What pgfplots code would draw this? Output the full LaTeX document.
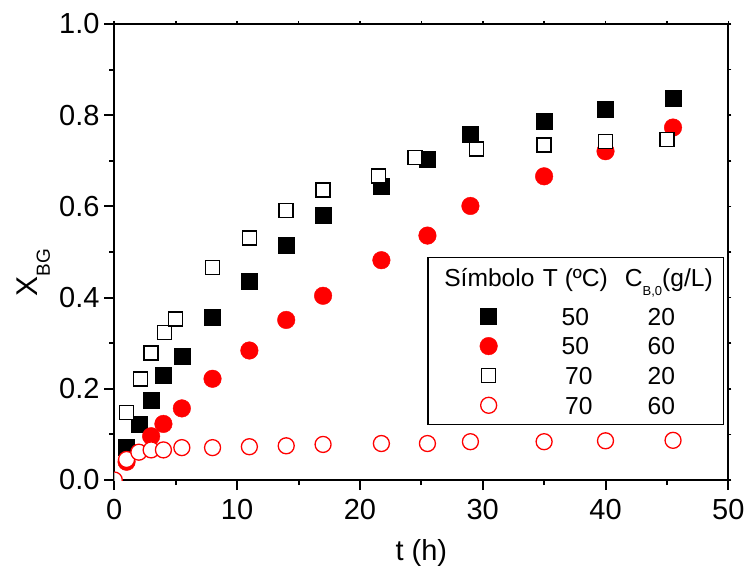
\documentclass[border=0pt]{standalone}
\usepackage{fontspec}
\setmainfont{Liberation Sans}
\usepackage{pgfplots}
\pgfplotsset{compat=1.18}

\newcommand{\tickfont}{\fontsize{14.5}{16}\selectfont}
\newcommand{\legfont}{\fontsize{12.3}{14}\selectfont}
% body row of the legend: T and C columns
\newcommand{\legrow}[2]{\makebox[58pt][c]{#1}\makebox[28pt][c]{#2}\hspace*{17pt}}

% legend symbol with a fixed column width; #1 = extra room below the row
\pgfplotsset{
    legmark/.style={legend image code/.code={
        \path (-30pt,#1) (14pt,0pt);
        \draw[mark repeat=2,mark phase=2,##1] plot coordinates {(-1pt,0pt) (0pt,0pt) (1pt,0pt)};
    }},
}

\begin{document}
\begin{tikzpicture}
\useasboundingbox (-57.15pt,-49.5pt) rectangle (317.35pt,240pt);

% tiny ticks on top and right
\begin{axis}[
    scale only axis, width=307pt, height=228pt,
    xmin=0, xmax=50, ymin=0, ymax=1,
    xtick={0,10,...,50}, ytick={0,0.2,0.4,0.6,0.8,1.0},
    minor x tick num=1, minor y tick num=1,
    xtick pos=right, ytick pos=right,
    tick align=outside,
    major tick length=1.5pt, minor tick length=1.5pt,
    xticklabels={}, yticklabels={},
    axis line style={draw=none},
    every tick/.style={black, line width=0.8pt},
]
\end{axis}

\begin{axis}[
    scale only axis, width=307pt, height=228pt,
    xmin=0, xmax=50, ymin=0, ymax=1,
    xtick={0,10,...,50}, ytick={0,0.2,0.4,0.6,0.8,1.0},
    minor x tick num=1, minor y tick num=1,
    xtick pos=left, ytick pos=left,
    tick align=outside,
    major tick length=5pt, minor tick length=2.5pt,
    axis line style={line width=1pt},
    every tick/.style={black, line width=1pt},
    /pgf/number format/assume math mode=true,
    ticklabel style={font=\tickfont, inner sep=0pt},
    xticklabel style={yshift=-4.2pt},
    yticklabel style={xshift=-2.2pt, /pgf/number format/.cd, fixed, fixed zerofill, precision=1},
    xlabel={t (h)},
    xlabel style={font=\tickfont, at={(axis description cs:0.5,-0.177)}, anchor=base},
    ylabel={X\raisebox{-6.3pt}{\fontsize{9.5}{10}\selectfont BG}},
    ylabel style={font=\fontsize{15}{16}\selectfont, at={(axis description cs:-0.1254,0.455)}, anchor=base},
    clip marker paths=true,
    legend cell align=left,
    legmark=0pt,
    legend style={at={(0.5098,0.4884)}, anchor=north west, draw=black, line width=0.6pt,
        inner xsep=0pt, inner ysep=0pt, row sep=0pt, column sep=0pt,
        nodes={inner sep=0pt, text height=11.8pt, text depth=3pt, font=\legfont}},
]
% header row: an invisible image that gives the row its extra height
\addlegendimage{legend image code/.code={\path (-30pt,9.7pt) (14pt,-11.6pt);}}
\addlegendentry{\hspace*{-44pt}\makebox[60pt][c]{Símbolo}\hspace*{-16pt}\makebox[58pt][c]{T (ºC)}\makebox[35.4pt][c]{C\raisebox{-4.5pt}{\fontsize{6.5}{7}\selectfont B,0}(g/L)}\hspace*{9.6pt}}

% 50 C, 20 g/L
\addplot[only marks, mark=square*, mark size=4pt, draw=black, fill=black, line width=0.2pt]
coordinates {
(1,0.072) (2,0.123) (3,0.176) (4,0.229) (5.5,0.272) (8,0.356) (11,0.436)
(14,0.515) (17,0.581) (21.75,0.645) (25.5,0.704) (29,0.759) (35,0.786)
(40,0.814) (45.5,0.837)
};
\addlegendentry{\legrow{50}{20}}

% 50 C, 60 g/L
\addplot[only marks, mark=*, mark size=4.4pt, draw=red, fill=red, line width=0.2pt]
coordinates {
(1,0.040) (3,0.096) (4,0.123) (5.5,0.157) (8,0.222) (11,0.284) (14,0.351)
(17,0.404) (21.75,0.482) (25.5,0.536) (29,0.601) (35,0.666) (40,0.721)
(45.5,0.773)
};
\addlegendentry{\legrow{50}{60}}

% 70 C, 20 g/L
\addplot[only marks, mark=square*, mark size=3.5pt, draw=black, fill=white, line width=0.75pt]
coordinates {
(1,0.148) (2.15,0.221) (3,0.278) (4.1,0.324) (5,0.353) (8,0.466) (11,0.531)
(14,0.591) (17,0.636) (21.5,0.667) (24.5,0.707) (29.5,0.726) (35,0.735)
(40,0.742) (45,0.747)
};
\addlegendentry{\legrow{\hspace*{3.4pt}70}{20}}

% 70 C, 60 g/L (last row carries the bottom margin of the box)
\addplot[only marks, mark=*, mark size=4pt, draw=red, fill=white, line width=0.65pt, legmark=-9.2pt]
coordinates {
(0,0) (1,0.045) (2,0.061) (3,0.066) (4,0.066) (5.5,0.071) (8,0.071) (11,0.073)
(14,0.075) (17,0.078) (21.75,0.080) (25.5,0.080) (29,0.084) (35,0.084)
(40,0.086) (45.5,0.087)
};
\addlegendentry{\legrow{\hspace*{3.4pt}70}{60}}
\end{axis}
\end{tikzpicture}
\end{document}
